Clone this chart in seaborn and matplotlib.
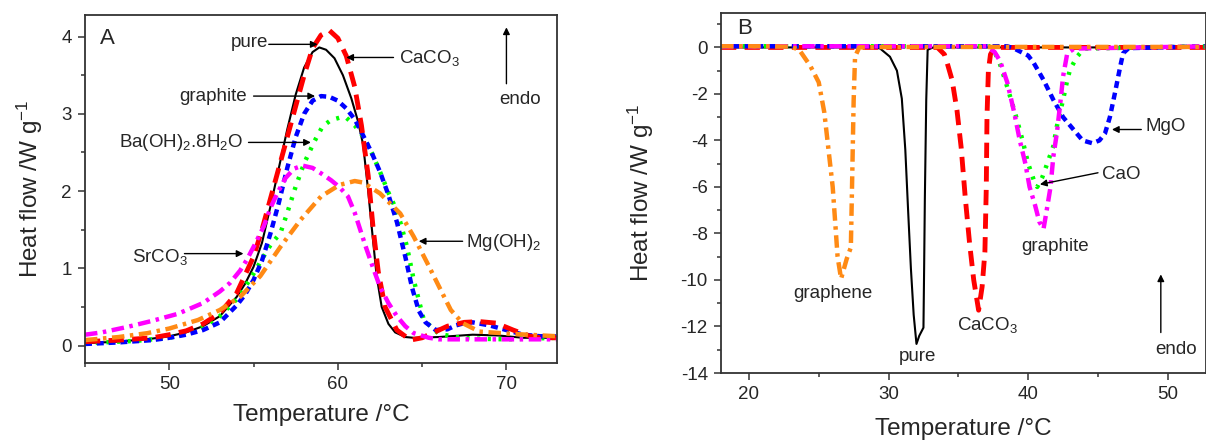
import numpy as np
import pandas as pd
import matplotlib
matplotlib.use('Agg')
import matplotlib.pyplot as plt
import seaborn as sns
from matplotlib.ticker import MultipleLocator

# ---- Panel A: heating curves (heat flow vs temperature) ----
a_pure_t = [45, 47, 49, 50, 51, 52, 53, 54, 54.5, 55, 55.5, 56, 56.5, 57, 57.5, 58, 58.5, 58.9, 59.3,
            59.8, 60.3, 60.8, 61.2, 61.5, 61.8, 62.0, 62.3, 62.6, 63.0, 63.4, 64.0, 64.5, 66, 68, 69.5, 71, 73]
a_pure_hf = [0.03, 0.05, 0.09, 0.12, 0.17, 0.25, 0.38, 0.63, 0.8, 1.02, 1.33, 1.8, 2.3, 2.8, 3.25, 3.6, 3.8, 3.86, 3.83,
             3.72, 3.5, 3.2, 2.9, 2.6, 2.0, 1.55, 0.9, 0.5, 0.28, 0.17, 0.11, 0.1, 0.11, 0.14, 0.13, 0.1, 0.1]

a_caco3_t = [45, 47, 49, 50, 51, 52, 53, 54, 55, 55.5, 56, 56.5, 57, 57.5, 58, 58.5, 59, 59.5, 60, 60.5, 61,
             61.4, 61.8, 62.1, 62.4, 62.8, 63.5, 64.3, 65, 66.5, 67.5, 68.4, 69.4, 70.4, 71.4, 72, 73]
a_caco3_hf = [0.05, 0.07, 0.1, 0.14, 0.19, 0.28, 0.42, 0.68, 1.15, 1.5, 1.9, 2.3, 2.7, 3.1, 3.5, 3.85, 4.02, 4.08, 3.98,
              3.75, 3.35, 2.85, 2.2, 1.5, 0.95, 0.5, 0.2, 0.07, 0.1, 0.25, 0.3, 0.31, 0.29, 0.2, 0.12, 0.1, 0.1]

a_graphite_t = [45, 47, 49, 50, 51, 52, 53, 54, 54.5, 55, 55.5, 56, 56.5, 57, 57.5, 58, 58.5, 59, 59.5, 60, 60.5,
                61, 61.5, 62, 62.5, 63, 63.5, 64, 64.4, 64.8, 65.2, 65.8, 66.5, 67, 67.5, 68, 68.5, 69, 70, 71, 72, 73]
a_graphite_hf = [0.02, 0.04, 0.07, 0.1, 0.14, 0.2, 0.3, 0.52, 0.66, 0.85, 1.1, 1.45, 1.85, 2.3, 2.7, 3.0, 3.17, 3.23,
                 3.22, 3.17, 3.07, 2.93, 2.72, 2.5, 2.25, 1.95, 1.6, 1.15, 0.75, 0.45, 0.3, 0.2, 0.21, 0.26, 0.29,
                 0.3, 0.28, 0.26, 0.2, 0.14, 0.12, 0.12]

a_baoh_t = [45, 48, 50, 51, 52, 53, 54, 54.5, 55, 55.5, 56, 56.6, 57, 57.5, 58, 58.6, 59.1, 59.6, 60.1, 60.5,
            61, 61.5, 62, 62.5, 63, 63.3, 63.7, 64.1, 64.5, 65.1, 66, 67, 68, 70, 73]
a_baoh_hf = [0.03, 0.06, 0.1, 0.15, 0.24, 0.38, 0.6, 0.76, 0.93, 1.12, 1.3, 1.46, 1.72, 2.06, 2.36, 2.64, 2.84, 2.92,
             2.95, 2.95, 2.85, 2.71, 2.5, 2.25, 1.98, 1.84, 1.6, 1.28, 0.85, 0.33, 0.15, 0.11, 0.09, 0.08, 0.1]

a_srco3_t = [45, 46, 47.5, 49, 50.5, 52, 53, 53.6, 54.2, 54.6, 55.1, 55.6, 56.0, 56.4, 56.9, 57.4, 57.9, 58.5, 59.0,
             59.6, 60.1, 60.6, 61.0, 61.4, 61.7, 62.1, 62.5, 63.0, 63.5, 64.0, 64.5, 65.4, 66, 73]
a_srco3_hf = [0.14, 0.17, 0.24, 0.32, 0.41, 0.55, 0.7, 0.81, 0.97, 1.11, 1.32, 1.54, 1.78, 1.97, 2.17, 2.29, 2.33,
              2.3, 2.23, 2.14, 2.05, 1.93, 1.72, 1.45, 1.25, 1.0, 0.76, 0.55, 0.38, 0.25, 0.16, 0.1, 0.08, 0.08]

a_mgoh_t = [45, 47, 48.7, 50, 51.7, 53.0, 54.2, 55.4, 56.6, 57.8, 59.0, 60.1, 61.0, 61.5, 62.5, 63.7, 64.5, 65.3,
            66.1, 66.7, 67.4, 68.4, 70.4, 73]
a_mgoh_hf = [0.07, 0.11, 0.16, 0.22, 0.33, 0.46, 0.63, 0.9, 1.28, 1.63, 1.93, 2.08, 2.13, 2.11, 1.97, 1.71, 1.41,
             1.07, 0.72, 0.46, 0.29, 0.18, 0.15, 0.12]

# ---- Panel B: cooling curves ----
b_graphene_t = [18, 21, 23, 23.6, 24.4, 25.0, 25.4, 25.7, 26.0, 26.2, 26.35, 26.6, 27.0, 27.3, 27.4, 27.5, 27.6,
                27.9, 30, 35, 40, 45, 50, 53]
b_graphene_hf = [0.05, 0.05, 0.03, -0.1, -0.8, -1.5, -2.8, -4.4, -6.0, -7.7, -9.0, -9.95, -9.1, -8.6, -5.5, -2.3,
                 -0.4, 0.0, 0.02, 0.02, 0.02, 0.02, 0.02, 0.02]

b_pure_t = [18, 25, 29.0, 29.4, 30.1, 30.6, 30.95, 31.2, 31.4, 31.6, 31.8, 32.0, 32.2, 32.5, 32.55, 32.6, 32.7,
            32.8, 33.2, 40, 53]
b_pure_hf = [0.0, 0.0, 0.0, -0.05, -0.4, -1.0, -2.2, -4.4, -7.0, -9.5, -11.5, -12.75, -12.4, -12.05, -9.4, -6.5,
             -2.25, -0.1, 0.0, 0.0, 0.0]

b_caco3_t = [18, 33.5, 34.0, 34.2, 34.55, 34.9, 35.2, 35.5, 35.8, 36.1, 36.45, 36.7, 36.9, 37.0, 37.05, 37.15,
             37.3, 37.6, 53]
b_caco3_hf = [0.0, 0.0, -0.3, -0.67, -1.4, -2.7, -4.3, -6.5, -8.4, -10.0, -11.3, -10.3, -8.8, -6.0, -3.0, -1.0,
              -0.3, 0.0, 0.0]

b_graphite_t = [18, 37.0, 37.6, 38.0, 38.5, 39.0, 39.4, 39.8, 40.1, 40.5, 40.8, 41.1, 41.3, 41.6, 41.8, 42.05,
                42.3, 42.5, 42.8, 43.3, 53]
b_graphite_hf = [0.05, 0.05, -0.2, -0.6, -1.5, -2.8, -4.0, -5.0, -6.0, -6.8, -7.5, -7.8, -7.1, -6.0, -4.7, -3.7,
                 -2.4, -1.25, -0.25, -0.05, 0.05]

b_cao_t = [18, 37.2, 37.6, 38.0, 38.5, 39.1, 39.6, 40.0, 40.4, 40.65, 41.0, 41.3, 41.8, 42.05, 42.5, 42.8, 43.0,
           43.5, 44.0, 53]
b_cao_hf = [0.05, 0.05, -0.2, -0.75, -1.7, -2.9, -4.0, -5.0, -5.7, -6.0, -5.6, -5.1, -4.25, -3.4, -2.25, -1.4,
            -0.95, -0.4, -0.05, 0.05]

b_mgo_t = [18, 38.5, 39.0, 39.4, 40.0, 40.4, 41.1, 41.8, 42.5, 43.2, 43.9, 44.6, 45.1, 45.5, 45.85, 46.2, 46.6,
           46.8, 47.2, 53]
b_mgo_hf = [0.05, 0.05, -0.05, -0.17, -0.35, -0.67, -1.4, -2.25, -3.0, -3.5, -4.0, -4.12, -4.0, -3.7, -3.0, -2.0,
            -0.8, -0.25, -0.03, 0.05]

# line styles (points, unscaled)
RED = '#ff0000'
BLUE = '#0000ff'
GREEN = '#00ff00'
MAGENTA = '#ff00ff'
ORANGE = '#ff8a14'
ls_red = (0, (11, 6))
ls_blue = (0, (5, 3.5))
ls_green = (0, (2.2, 5.5))
ls_dashdot = (0, (9, 4, 2.5, 4))

sns.set_style('ticks')
plt.rcParams['font.family'] = ['Liberation Sans', 'DejaVu Sans']
plt.rcParams['mathtext.fontset'] = 'custom'
plt.rcParams['mathtext.rm'] = 'Liberation Sans'
plt.rcParams['mathtext.default'] = 'regular'
plt.rcParams['axes.unicode_minus'] = False
plt.rcParams['lines.scale_dashes'] = False


def draw(ax, t, hf, color, lw, ls):
    sns.lineplot(x=t, y=hf, ax=ax, color=color, linewidth=lw, linestyle=ls,
                 sort=False, estimator=None, legend=False)


def arrow(ax, x0, y0, x1, y1):
    ax.annotate('', xy=(x1, y1), xytext=(x0, y0),
                arrowprops=dict(arrowstyle='-|>', color='k', lw=1.0, mutation_scale=10,
                                shrinkA=0, shrinkB=0))


def style_axes(ax):
    for s in ax.spines.values():
        s.set_linewidth(1.3)
        s.set_color('#333333')
    ax.tick_params(which='both', direction='out', top=False, right=False, labelsize=13.5, width=1.1,
                   color='#333333')
    ax.tick_params(which='major', length=5, pad=4.5)
    ax.tick_params(which='minor', length=3)


fig = plt.figure(figsize=(12.06, 4.41), dpi=100)
W, H = 1206, 441
axA = fig.add_axes([85 / W, (H - 362.5) / H, (557 - 85) / W, (362.5 - 15) / H])
axB = fig.add_axes([721 / W, (H - 373) / H, (1205.5 - 721) / W, (373 - 13) / H])

# Panel A
draw(axA, a_pure_t, a_pure_hf, 'black', 1.5, '-')
draw(axA, a_baoh_t, a_baoh_hf, GREEN, 3.2, ls_green)
draw(axA, a_graphite_t, a_graphite_hf, BLUE, 3.2, ls_blue)
draw(axA, a_caco3_t, a_caco3_hf, RED, 3.5, ls_red)
draw(axA, a_srco3_t, a_srco3_hf, MAGENTA, 3.2, ls_dashdot)
draw(axA, a_mgoh_t, a_mgoh_hf, ORANGE, 3.2, ls_dashdot)

axA.set_xlim(45, 73)
axA.set_ylim(-0.22, 4.28)
axA.xaxis.set_major_locator(MultipleLocator(10))
axA.xaxis.set_minor_locator(MultipleLocator(5))
axA.yaxis.set_major_locator(MultipleLocator(1))
axA.yaxis.set_minor_locator(MultipleLocator(0.5))
style_axes(axA)
axA.set_xlabel('Temperature /°C', fontsize=17.5, labelpad=8)
axA.set_ylabel('Heat flow /W g$^{-1}$', fontsize=17.5, labelpad=12)

fs = 13.5
axA.text(46.3, 3.98, 'A', fontsize=16, ha='center', va='center')
axA.text(55.85, 3.92, 'pure', fontsize=fs, ha='right', va='center')
arrow(axA, 55.9, 3.9, 58.8, 3.9)
axA.text(63.6, 3.72, 'CaCO$_3$', fontsize=fs, ha='left', va='center')
arrow(axA, 63.3, 3.73, 60.5, 3.73)
axA.text(54.6, 3.22, 'graphite', fontsize=fs, ha='right', va='center')
arrow(axA, 55.0, 3.23, 58.65, 3.23)
axA.text(54.4, 2.63, 'Ba(OH)$_2$.8H$_2$O', fontsize=fs, ha='right', va='center')
arrow(axA, 54.7, 2.63, 58.4, 2.63)
axA.text(51.1, 1.15, 'SrCO$_3$', fontsize=fs, ha='right', va='center')
arrow(axA, 50.9, 1.19, 54.4, 1.19)
axA.text(67.6, 1.33, 'Mg(OH)$_2$', fontsize=fs, ha='left', va='center')
arrow(axA, 67.4, 1.35, 64.8, 1.35)
axA.text(70.8, 3.18, 'endo', fontsize=fs, ha='center', va='center')
arrow(axA, 70.0, 3.39, 70.0, 4.12)

# Panel B
draw(axB, b_pure_t, b_pure_hf, 'black', 1.5, '-')
draw(axB, b_caco3_t, b_caco3_hf, RED, 3.5, ls_red)
draw(axB, b_cao_t, b_cao_hf, GREEN, 3.2, ls_green)
draw(axB, b_mgo_t, b_mgo_hf, BLUE, 3.2, ls_blue)
draw(axB, b_graphite_t, b_graphite_hf, MAGENTA, 3.2, ls_dashdot)
draw(axB, b_graphene_t, b_graphene_hf, ORANGE, 3.2, ls_dashdot)

axB.set_xlim(18, 52.7)
axB.set_ylim(-14, 1.48)
axB.xaxis.set_major_locator(MultipleLocator(10))
axB.xaxis.set_minor_locator(MultipleLocator(5))
axB.yaxis.set_major_locator(MultipleLocator(2))
axB.yaxis.set_minor_locator(MultipleLocator(1))
style_axes(axB)
axB.set_xlabel('Temperature /°C', fontsize=17.5, labelpad=11)
axB.set_ylabel('Heat flow /W g$^{-1}$', fontsize=17.5, labelpad=18)

axB.text(19.7, 0.83, 'B', fontsize=16, ha='center', va='center')
axB.text(26.0, -10.6, 'graphene', fontsize=fs, ha='center', va='center')
axB.text(32.1, -13.3, 'pure', fontsize=fs, ha='center', va='center')
axB.text(34.87, -11.95, 'CaCO$_3$', fontsize=fs, ha='left', va='center')
axB.text(41.9, -8.54, 'graphite', fontsize=fs, ha='center', va='center')
axB.text(45.3, -5.46, 'CaO', fontsize=fs, ha='left', va='center')
arrow(axB, 45.0, -5.39, 40.84, -5.89)
axB.text(48.4, -3.39, 'MgO', fontsize=fs, ha='left', va='center')
arrow(axB, 48.1, -3.53, 46.0, -3.53)
axB.text(50.6, -12.97, 'endo', fontsize=fs, ha='center', va='center')
arrow(axB, 49.5, -12.26, 49.5, -9.76)

fig.savefig('out.png', dpi=100)
